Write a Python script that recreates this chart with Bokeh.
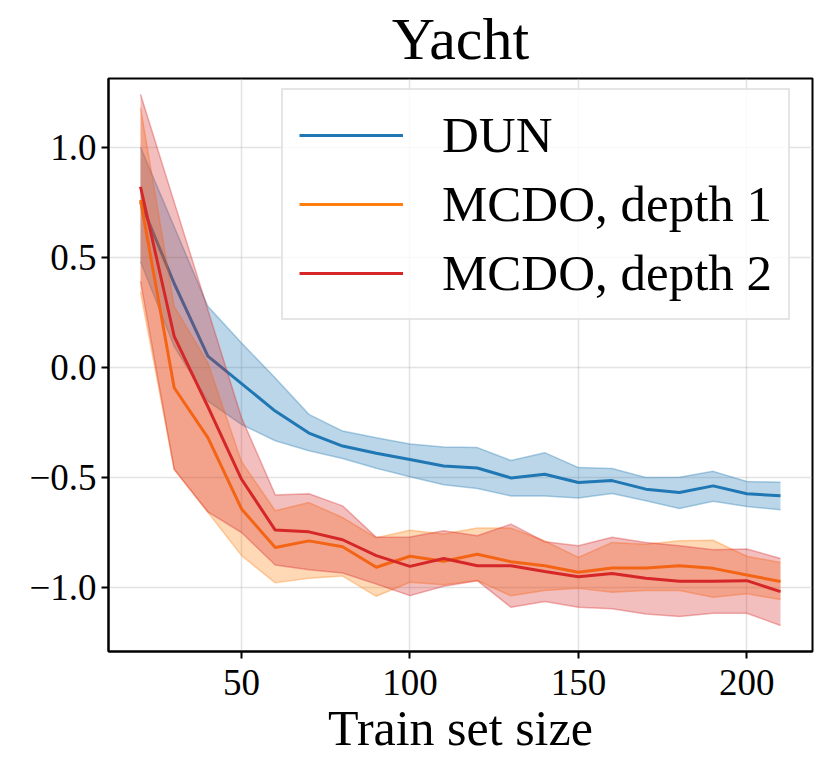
from bokeh.plotting import figure
from bokeh.models import Range1d, FixedTicker, CustomJSTickFormatter, Legend, LegendItem, ColumnDataSource
from bokeh.embed import file_html
from bokeh.resources import INLINE

# ---- data ----
train_size = [20, 30, 40, 50, 60, 70, 80, 90, 100, 110, 120, 130, 140, 150, 160, 170, 180, 190, 200, 210]

dun_mean = [0.75, 0.38, 0.05, -0.075, -0.20, -0.30, -0.359, -0.392, -0.42, -0.45, -0.459, -0.504, -0.487, -0.525, -0.516, -0.555, -0.57, -0.54, -0.576, -0.585]
dun_upper = [1.00, 0.638, 0.276, 0.11, -0.05, -0.215, -0.291, -0.321, -0.35, -0.363, -0.366, -0.425, -0.389, -0.457, -0.461, -0.502, -0.501, -0.474, -0.52, -0.524]
dun_lower = [0.48, 0.094, -0.155, -0.261, -0.335, -0.38, -0.416, -0.46, -0.499, -0.535, -0.552, -0.586, -0.586, -0.595, -0.575, -0.608, -0.643, -0.61, -0.634, -0.649]

mc1_mean = [0.76, -0.094, -0.321, -0.645, -0.82, -0.79, -0.817, -0.91, -0.86, -0.883, -0.851, -0.885, -0.903, -0.933, -0.913, -0.913, -0.903, -0.915, -0.945, -0.975]
mc1_upper = [1.18, 0.276, 0.019, -0.43, -0.653, -0.616, -0.684, -0.776, -0.742, -0.759, -0.732, -0.732, -0.79, -0.865, -0.797, -0.805, -0.79, -0.787, -0.86, -0.888]
mc1_lower = [0.34, -0.465, -0.66, -0.857, -0.981, -0.96, -0.95, -1.042, -0.978, -0.99, -0.97, -1.04, -1.016, -1.006, -1.024, -1.016, -1.016, -1.046, -1.031, -1.057]

mc2_mean = [0.82, 0.14, -0.18, -0.51, -0.741, -0.749, -0.785, -0.857, -0.906, -0.87, -0.903, -0.903, -0.929, -0.953, -0.938, -0.96, -0.974, -0.974, -0.971, -1.021]
mc2_upper = [1.24, 0.75, 0.26, -0.23, -0.581, -0.576, -0.631, -0.774, -0.772, -0.744, -0.767, -0.714, -0.794, -0.812, -0.774, -0.797, -0.812, -0.83, -0.827, -0.87]
mc2_lower = [0.39, -0.465, -0.658, -0.752, -0.90, -0.921, -0.936, -0.986, -1.039, -0.996, -0.971, -1.092, -1.066, -1.092, -1.099, -1.122, -1.134, -1.119, -1.119, -1.175]

labels = ["DUN", "MCDO, depth 1", "MCDO, depth 2"]
colors = ["#1f77b4", "#ff7f0e", "#d62728"]
x_ticks = [50, 100, 150, 200]
y_ticks = [-1.0, -0.5, 0.0, 0.5, 1.0]

FONT = "Liberation Serif"

p = figure(width=823, height=758, output_backend="svg", toolbar_location=None,
           x_range=Range1d(10.5, 219.5), y_range=Range1d(-1.293, 1.312),
           min_border_left=108, min_border_right=11, min_border_top=78, min_border_bottom=100)

p.title.text = "Yacht"
p.title.text_font = FONT
p.title.text_font_size = "60px"
p.title.text_font_style = "normal"
p.title.text_color = "black"
p.title.align = "center"
p.title.vertical_align = "top"

series = [(dun_mean, dun_upper, dun_lower), (mc1_mean, mc1_upper, mc1_lower), (mc2_mean, mc2_upper, mc2_lower)]
line_renderers = []
for (m, u, l), c in zip(series, colors):
    src = ColumnDataSource(dict(x=train_size, m=m, u=u, l=l))
    p.varea(x="x", y1="l", y2="u", source=src, fill_color=c, fill_alpha=0.3)
    p.line(x="x", y="u", source=src, line_color=c, line_alpha=0.35, line_width=1.5)
    p.line(x="x", y="l", source=src, line_color=c, line_alpha=0.35, line_width=1.5)
    r = p.line(x="x", y="m", source=src, line_color=c, line_width=3)
    line_renderers.append(r)

legend = Legend(items=[LegendItem(label=lab, renderers=[r]) for lab, r in zip(labels, line_renderers)],
                location=(173, 331), label_text_font=FONT, label_text_font_size="51px",
                label_text_color="black", label_width=330,
                glyph_width=104, glyph_height=40, label_standoff=39, padding=16, spacing=11,
                margin=0, border_line_color="#cccccc", border_line_width=2,
                background_fill_alpha=0.8)
p.add_layout(legend)

for ax in (p.xaxis, p.yaxis):
    ax.major_label_text_font = FONT
    ax.major_label_text_font_size = "37px"
    ax.major_label_text_color = "black"
    ax.major_tick_out = 7
    ax.major_tick_in = 0
    ax.minor_tick_out = 0
    ax.minor_tick_in = 0
    ax.axis_line_width = 2
    ax.major_tick_line_width = 2
    ax.axis_label_text_font = FONT
    ax.axis_label_text_font_style = "normal"
    ax.axis_label_text_color = "black"

p.xaxis.ticker = FixedTicker(ticks=x_ticks)
p.yaxis.ticker = FixedTicker(ticks=y_ticks)
p.yaxis.formatter = CustomJSTickFormatter(code="return (tick < 0 ? '\u2212' : '') + Math.abs(tick).toFixed(1);")
p.xaxis.axis_label = "Train set size"
p.xaxis.axis_label_text_font_size = "50px"
p.xaxis.axis_label_standoff = 2
p.xaxis.major_label_standoff = 11

p.outline_line_color = "black"
p.outline_line_width = 2
p.outline_line_alpha = 1
p.grid.grid_line_color = "#b0b0b0"
p.grid.grid_line_alpha = 0.35
p.grid.grid_line_width = 1.5

open("out.html", "w").write(file_html(p, INLINE))
